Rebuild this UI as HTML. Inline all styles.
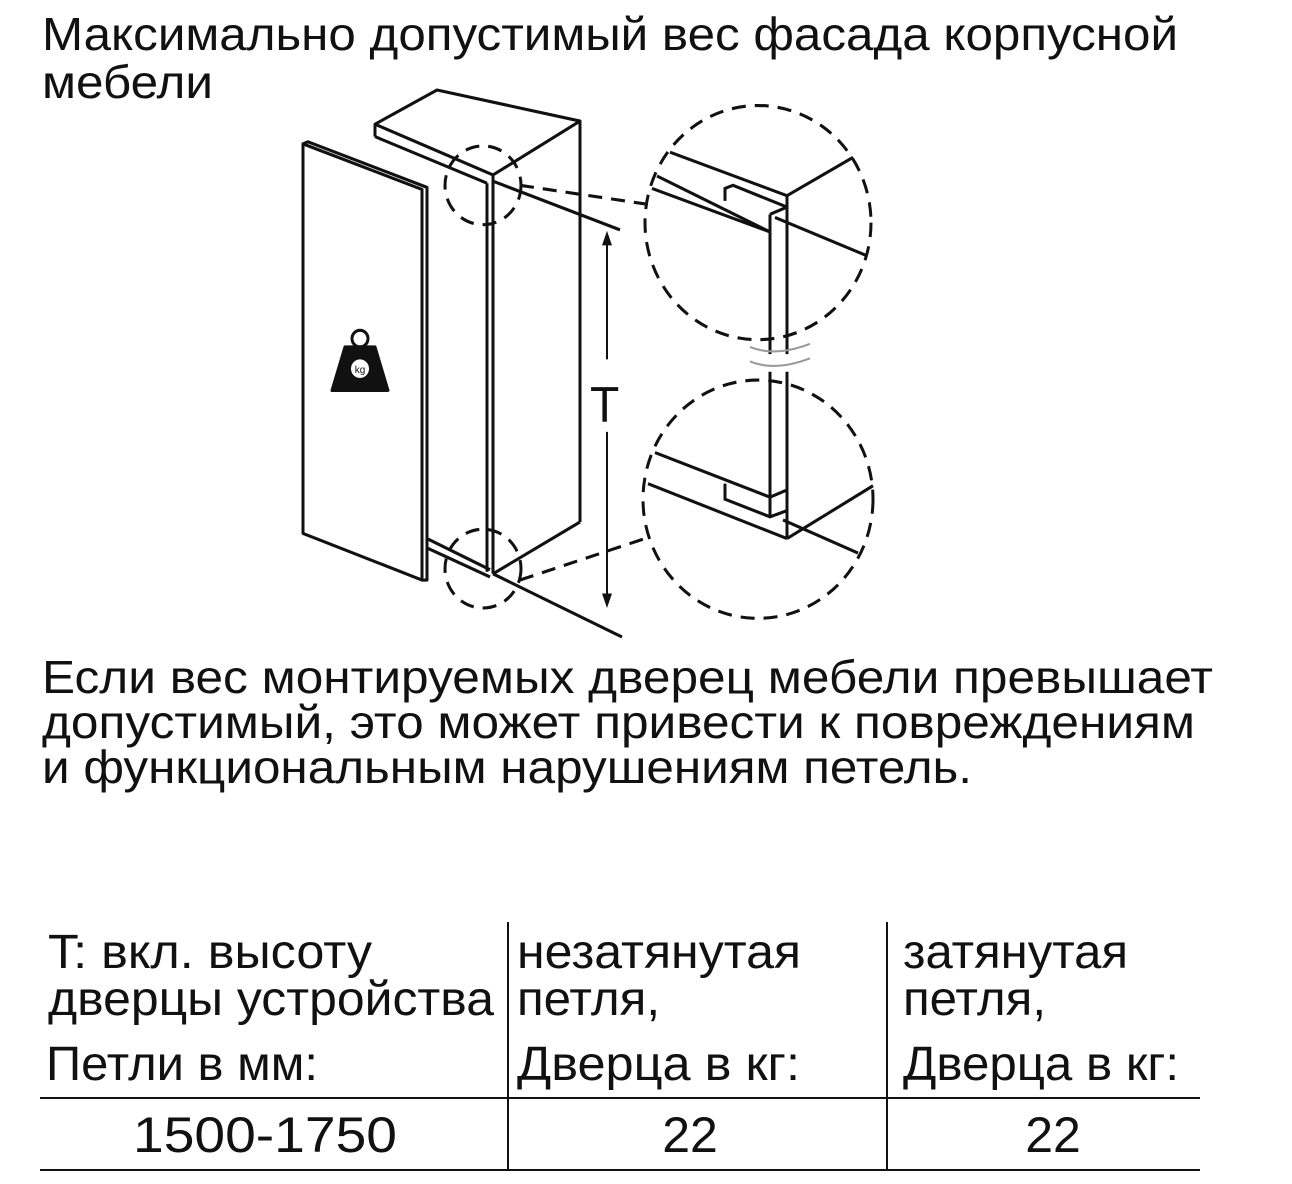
<!DOCTYPE html>
<html><head><meta charset="utf-8"><style>
html,body{margin:0;padding:0;background:#fff;}
svg{display:block;}
text{font-family:"Liberation Sans",Arial,sans-serif;fill:#111;}
</style></head><body>
<svg width="1292" height="1184" viewBox="0 0 1292 1184" xmlns="http://www.w3.org/2000/svg">
<g font-size="46">
<text x="42" y="50" textLength="1136" lengthAdjust="spacingAndGlyphs">Максимально допустимый вес фасада корпусной</text>
<text x="42" y="98" textLength="171" lengthAdjust="spacingAndGlyphs">мебели</text>
<text x="42" y="693" textLength="1171" lengthAdjust="spacingAndGlyphs">Если вес монтируемых дверец мебели превышает</text>
<text x="42" y="738" textLength="1153" lengthAdjust="spacingAndGlyphs">допустимый, это может привести к повреждениям</text>
<text x="42" y="783" textLength="930" lengthAdjust="spacingAndGlyphs">и функциональным нарушениям петель.</text>
</g>
<g transform="translate(0,90) scale(1,1.036) translate(0,-90)">
<g stroke="#111" stroke-width="3" fill="none" stroke-linejoin="round">
<polygon points="303,142 422,186 422,563 303,518" fill="#fff"/>
<polyline points="303,142 308,140 427,184 427,563 422,563"/>
<polyline points="375,135 375,123 437,90 580,120 493,172 375,123"/>
<line x1="375" y1="135" x2="487" y2="180"/>
<line x1="580" y1="120" x2="580" y2="507"/>
<line x1="493" y1="172" x2="493" y2="557"/>
<line x1="487" y1="180" x2="487" y2="555"/>
<line x1="493" y1="557" x2="580" y2="507"/>
<line x1="427" y1="523" x2="490" y2="553"/>
<line x1="427" y1="532" x2="490" y2="560"/>
<line x1="493" y1="178" x2="620" y2="225"/>
<line x1="493" y1="557" x2="622" y2="618"/>
</g>
<g stroke="#111" stroke-width="2">
<line x1="607" y1="232" x2="607" y2="350"/>
<line x1="607" y1="420" x2="607" y2="584"/>
</g>
<polygon points="607,226 602,240 612,240" fill="#111"/>
<polygon points="607,590 602,576 612,576" fill="#111"/>
<text x="590" y="410" font-size="48">T</text>
<circle cx="360" cy="330" r="8" fill="none" stroke="#111" stroke-width="3"/>
<path d="M345,338 L375,338 L388,380 L332,380 Z" fill="#111" stroke="#111" stroke-width="3" stroke-linejoin="round"/>
<circle cx="360" cy="359" r="9" fill="#fff"/>
<text x="360" y="363" font-size="10" text-anchor="middle">kg</text>
<g stroke="#111" stroke-width="3" fill="none" stroke-dasharray="14,9">
<circle cx="483" cy="182" r="38"/>
<circle cx="483" cy="552" r="38"/>
<circle cx="758" cy="218" r="113"/>
<circle cx="758" cy="485" r="115"/>
<line x1="520" y1="182" x2="645" y2="200"/>
<line x1="520" y1="563" x2="648" y2="522"/>
</g>
<g stroke="#111" stroke-width="3" fill="none">
<line x1="670" y1="150" x2="787" y2="192"/>
<line x1="787" y1="192" x2="853" y2="155"/>
<line x1="657" y1="173" x2="770" y2="227"/>
<line x1="652" y1="185" x2="770" y2="227"/>
<line x1="775" y1="213" x2="867" y2="250"/>
<polyline points="725,197 725,185 733,182 787,203"/>
<line x1="770" y1="210" x2="787" y2="203"/>
<line x1="770" y1="210" x2="770" y2="345"/>
<line x1="787" y1="192" x2="787" y2="345"/>
<line x1="770" y1="362" x2="770" y2="502"/>
<line x1="787" y1="362" x2="787" y2="523"/>
<line x1="655" y1="440" x2="770" y2="483"/>
<line x1="648" y1="470" x2="787" y2="523"/>
<line x1="787" y1="523" x2="873" y2="472"/>
<line x1="783" y1="505" x2="858" y2="537"/>
<polyline points="725,470 725,485 770,502 787,496"/>
<line x1="770" y1="483" x2="787" y2="476"/>
</g>
<g stroke="#999" stroke-width="2" fill="none">
<path d="M750,338 Q775,348 810,335"/>
<path d="M750,352 Q775,362 810,349"/>
</g>
</g>
<g stroke="#111" stroke-width="2">
<line x1="40" y1="1098" x2="1200" y2="1098"/>
<line x1="40" y1="1170" x2="1200" y2="1170"/>
<line x1="508" y1="922" x2="508" y2="1170"/>
<line x1="887" y1="922" x2="887" y2="1170"/>
</g>
<g font-size="48">
<text x="48" y="968" textLength="324" lengthAdjust="spacingAndGlyphs">T: вкл. высоту</text>
<text x="48" y="1015" textLength="446" lengthAdjust="spacingAndGlyphs">дверцы устройства</text>
<text x="46" y="1080" textLength="272" lengthAdjust="spacingAndGlyphs">Петли в мм:</text>
<text x="517" y="968" textLength="284" lengthAdjust="spacingAndGlyphs">незатянутая</text>
<text x="517" y="1015" textLength="143" lengthAdjust="spacingAndGlyphs">петля,</text>
<text x="517" y="1080" textLength="283" lengthAdjust="spacingAndGlyphs">Дверца в кг:</text>
<text x="903" y="968" textLength="225" lengthAdjust="spacingAndGlyphs">затянутая</text>
<text x="903" y="1015" textLength="143" lengthAdjust="spacingAndGlyphs">петля,</text>
<text x="903" y="1080" textLength="276" lengthAdjust="spacingAndGlyphs">Дверца в кг:</text>
<text x="133" y="1152" font-size="50" textLength="264" lengthAdjust="spacingAndGlyphs">1500-1750</text>
<text x="690" y="1152" font-size="50" text-anchor="middle">22</text>
<text x="1053" y="1152" font-size="50" text-anchor="middle">22</text>
</g>
</svg>
</body></html>
